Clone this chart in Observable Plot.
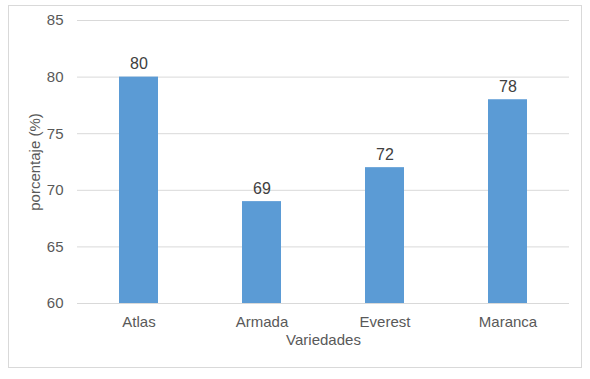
<!DOCTYPE html>
<html><head><meta charset="utf-8">
<script src="https://cdn.jsdelivr.net/npm/d3@7"></script>
<script src="https://cdn.jsdelivr.net/npm/@observablehq/plot@0.6"></script>
<style>
body{margin:0;background:#fff;font-family:"Liberation Sans",Arial,sans-serif;}
#wrap{position:relative;width:590px;height:379px;}
#frame{position:absolute;left:8px;top:5px;width:574px;height:363px;border:1px solid #d9d9d9;box-sizing:border-box;}
#chart{position:absolute;left:0;top:0;}
</style></head>
<body><div id="wrap"><div id="frame"></div><div id="chart"></div></div>
<script>
const categories = ["Atlas","Armada","Everest","Maranca"];
const values = [80,69,72,78];
const yTicks = [60,65,70,75,80,85];
const data = categories.map((c,i)=>({c, v: values[i]}));
const chart = Plot.plot({
  width: 590, height: 379,
  marginTop: 20, marginBottom: 76, marginLeft: 77, marginRight: 21,
  style: {fontFamily: '"Liberation Sans", Arial, sans-serif', fontSize: "15px", color: "#595959", background: "transparent"},
  x: {domain: categories, paddingInner: 0.68, paddingOuter: 0.34, label: null},
  y: {domain: [60,85], ticks: yTicks, label: null},
  marks: [
    Plot.gridY(yTicks, {stroke: "#d9d9d9", strokeOpacity: 1, strokeWidth: 1}),
    Plot.barY(data, {x: "c", y1: 60, y2: "v", fill: "#5b9bd5"}),
    Plot.text(data, {x: "c", y: "v", text: d => String(d.v), dy: -13, fill: "#404040", fontSize: 16}),
    Plot.axisX({tickSize: 0, tickPadding: 13, fontSize: 15, fill: "#595959", label: null}),
    Plot.axisY(yTicks, {tickSize: 0, tickPadding: 14, fontSize: 15, fill: "#595959", label: null}),
    Plot.text(["Variedades"], {frameAnchor: "bottom", dy: 41, fontSize: 15, fill: "#595959"}),
    Plot.text(["porcentaje (%)"], {frameAnchor: "left", textAnchor: "middle", dx: -42, rotate: -90, fontSize: 15, fill: "#595959"})
  ]
});
document.getElementById("chart").appendChild(chart);
</script></body></html>
